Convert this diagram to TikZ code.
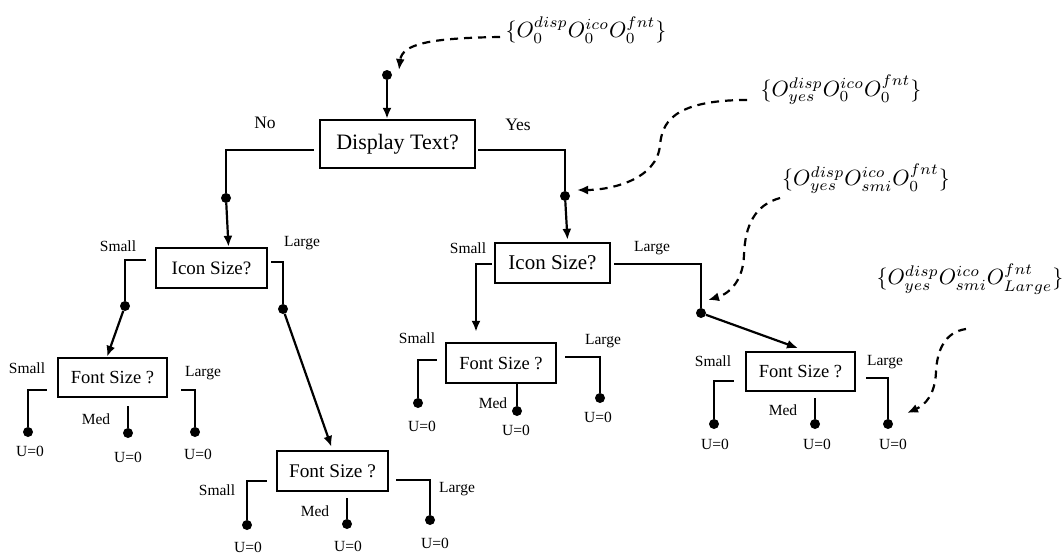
\documentclass[tikz,border=0pt]{standalone}
\usepackage{fontspec}
\setmainfont{Liberation Serif}
\usepackage{graphicx}
\usetikzlibrary{arrows.meta}
\begin{document}
\begin{tikzpicture}[x=1pt,y=-1pt,
  box/.style={draw,line width=2.4pt,inner sep=0pt,font=\fontsize{18.5}{20}\selectfont},
  dot/.style={circle,fill,inner sep=0pt,minimum size=10pt},
  lbl/.style={font=\fontsize{15.5}{17}\selectfont,inner sep=0pt},
  yn/.style={font=\fontsize{17.5}{19}\selectfont,inner sep=0pt},
  ln/.style={line width=2.2pt},
  arr/.style={line width=2.2pt,-{Latex[length=11pt,width=9pt]}},
  dsh/.style={line width=2.2pt,dash pattern=on 8pt off 6pt,-{Latex[length=11pt,width=9pt]}},
  mth/.style={inner sep=0pt}
]
\useasboundingbox (0,0) rectangle (1064,555);

% boxes
\node[box,minimum width=155pt,minimum height=48pt,font=\fontsize{22}{24}\selectfont] (root) at (397.5,144) {Display Text?};
\node[box,minimum width=111pt,minimum height=40pt,font=\fontsize{19}{21}\selectfont] (icL) at (211.5,268) {Icon Size?};
\node[box,minimum width=115pt,minimum height=40pt,font=\fontsize{21}{23}\selectfont] (icR) at (552.5,263) {Icon Size?};
\node[box,minimum width=109pt,minimum height=39pt] (fsL1) at (112.5,377.5) {Font Size ?};
\node[box,minimum width=111pt,minimum height=40pt,font=\fontsize{19.3}{21}\selectfont] (fsL2) at (332.5,471) {Font Size ?};
\node[box,minimum width=110pt,minimum height=40pt] (fsR1) at (501,363) {Font Size ?};
\node[box,minimum width=109pt,minimum height=39pt] (fsR2) at (800.5,371.5) {Font Size ?};

% dots
\node[dot] (d0) at (387,75) {};
\node[dot] (dNo) at (226,198) {};
\node[dot] (dYes) at (565,196) {};
\node[dot] (dILs) at (125,306) {};
\node[dot] (dILl) at (283,309) {};
\node[dot] (dIRl) at (701,313) {};
\node[dot] (lfL1s) at (28,432) {};
\node[dot] (lfL1m) at (128,433) {};
\node[dot] (lfL1l) at (195,432) {};
\node[dot] (lfL2s) at (247,525) {};
\node[dot] (lfL2m) at (347,524) {};
\node[dot] (lfL2l) at (430,520) {};
\node[dot] (lfR1s) at (418,403) {};
\node[dot] (lfR1m) at (517,411) {};
\node[dot] (lfR1l) at (600,398) {};
\node[dot] (lfR2s) at (714,424) {};
\node[dot] (lfR2m) at (815,424) {};
\node[dot] (lfR2l) at (888,424) {};

% main connectors
\draw[arr] (d0) -- (d0 |- root.north);
\draw[ln] ([xshift=-5pt,yshift=-6pt]root.west) -| (dNo);
\draw[arr] (dNo) -- ([xshift=17pt]icL.north);
\draw[ln] ([xshift=2pt,yshift=-6pt]root.east) -| (dYes);
\draw[arr] (dYes) -- ([xshift=15pt,yshift=2pt]icR.north);

\draw[ln] ([xshift=-9pt,yshift=8pt]icL.west) -| (dILs);
\draw[arr] (dILs) -- ([xshift=-5.5pt]fsL1.north);
\draw[ln] ([xshift=3pt,yshift=6pt]icL.east) -| (dILl);
\draw[arr,shorten >=3pt] (dILl) -- (fsL2.north);

\draw[arr,shorten >=10pt] ([xshift=-2pt,yshift=-1pt]icR.west) -| ([xshift=-25pt]fsR1.north);
\draw[ln] ([xshift=3pt,yshift=-1pt]icR.east) -| (dIRl);
\draw[arr,shorten >=8pt] (dIRl) -- ([xshift=5pt]fsR2.north);

% leaves
\draw[ln] ([xshift=-10pt,yshift=-12.5pt]fsL1.west) -| (lfL1s);
\draw[ln] ([xshift=15.5pt,yshift=-8pt]fsL1.south) -- (lfL1m);
\draw[ln] ([xshift=13pt,yshift=-12.5pt]fsL1.east) -| (lfL1l);

\draw[ln] ([xshift=-9pt,yshift=-10pt]fsL2.west) -| (lfL2s);
\draw[ln] ([xshift=14.5pt,yshift=-6pt]fsL2.south) -- (lfL2m);
\draw[ln] ([xshift=7pt,yshift=-9pt]fsL2.east) -| (lfL2l);

\draw[ln] ([xshift=-8pt,yshift=3pt]fsR1.west) -| (lfR1s);
\draw[ln] ([xshift=16pt]fsR1.south) -- (lfR1m);
\draw[ln] ([xshift=8pt,yshift=6pt]fsR1.east) -| (lfR1l);

\draw[ln] ([xshift=-11pt,yshift=-9.5pt]fsR2.west) -| (lfR2s);
\draw[ln] ([xshift=14.5pt,yshift=-6pt]fsR2.south) -- (lfR2m);
\draw[ln] ([xshift=10pt,yshift=-6.5pt]fsR2.east) -| (lfR2l);

% branch labels
\node[yn] (tNo) at (265,123) {No};
\node[yn] (tYes) at (518,125) {Yes};
\node[lbl] (tILs) at (118,246) {Small};
\node[lbl] (tILl) at (302,243) {Large};
\node[lbl] (tIRs) at (468,248) {Small};
\node[lbl] (tIRl) at (652,248) {Large};
\node[lbl] (tL1s) at (27,368) {Small};
\node[lbl] (tL1l) at (203,373) {Large};
\node[lbl] (tL1m) at (96,419) {Med};
\node[lbl] (tL2s) at (217,490) {Small};
\node[lbl] (tL2l) at (457,489) {Large};
\node[lbl] (tL2m) at (315,511) {Med};
\node[lbl] (tR1s) at (417,338) {Small};
\node[lbl] (tR1l) at (603,341) {Large};
\node[lbl] (tR1m) at (493,403) {Med};
\node[lbl] (tR2s) at (713,361) {Small};
\node[lbl] (tR2l) at (885,362) {Large};
\node[lbl] (tR2m) at (783,410) {Med};

% utilities
\node[lbl] (uL1s) at (30,451) {U=0};
\node[lbl] (uL1m) at (128,457) {U=0};
\node[lbl] (uL1l) at (198,454) {U=0};
\node[lbl] (uL2s) at (248,547) {U=0};
\node[lbl] (uL2m) at (348,546) {U=0};
\node[lbl] (uL2l) at (435,543) {U=0};
\node[lbl] (uR1s) at (422,426) {U=0};
\node[lbl] (uR1m) at (516,430) {U=0};
\node[lbl] (uR1l) at (598,417) {U=0};
\node[lbl] (uR2s) at (715,444) {U=0};
\node[lbl] (uR2m) at (817,444) {U=0};
\node[lbl] (uR2l) at (893,444) {U=0};

% state labels
\node[mth] (m1) at (586,30) {\scalebox{2.2}{$\{O_0^{disp}O_0^{ico}O_0^{fnt}\}$}};
\node[mth] (m2) at (841,90) {\scalebox{2.2}{$\{O_{yes}^{disp}O_0^{ico}O_0^{fnt}\}$}};
\node[mth] (m3) at (866,179) {\scalebox{2.2}{$\{O_{yes}^{disp}O_{smi}^{ico}O_0^{fnt}\}$}};
\node[mth] (m4) at (970,279) {\scalebox{2.2}{$\{O_{yes}^{disp}O_{smi}^{ico}O_{Large}^{fnt}\}$}};

% dashed state pointers
\coordinate (c1s) at (500,37);
\coordinate (c1e) at (399,70);
\coordinate (c2s) at (747,100);
\coordinate (c2e) at (577,190);
\coordinate (c3s) at (780,198);
\coordinate (c3e) at (708,300);
\coordinate (c4s) at (966,329);
\coordinate (c4e) at (907,413);
\draw[dsh] (c1s) .. controls (430,38) and (402,44) .. (c1e);
\draw[dsh] (c2s) .. controls (670,100) and (662,125) .. (660,145) .. controls (657,180) and (610,190) .. (c2e);
\draw[dsh] (c3s) .. controls (755,205) and (745,225) .. (744,255) .. controls (743,285) and (725,295) .. (c3e);
\draw[dsh] (c4s) .. controls (945,332) and (937,350) .. (936,372) .. controls (935,395) and (925,405) .. (c4e);
\end{tikzpicture}
\end{document}
